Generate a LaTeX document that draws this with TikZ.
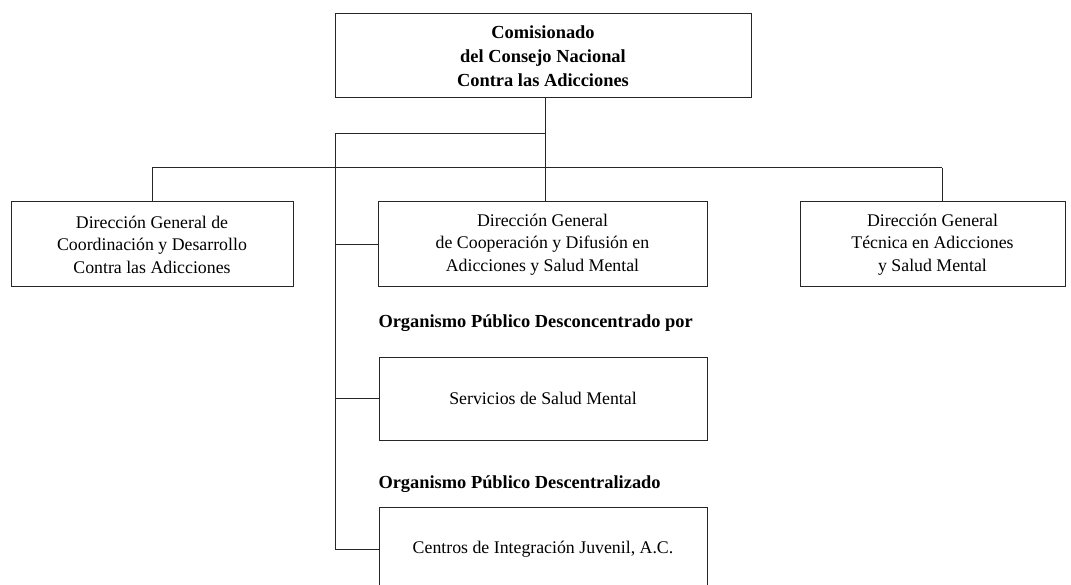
\documentclass[tikz,border=0pt]{standalone}
\usepackage{fontspec}
\setmainfont{Liberation Serif}
\begin{document}
\begin{tikzpicture}[x=1pt,y=-1pt,
  line width=1pt, draw=black!85,
  orgbox/.style={draw, line width=1pt, align=center, inner sep=0pt,
    font=\fontsize{17.8}{22.5}\selectfont},
  headbox/.style={orgbox, font=\bfseries\fontsize{18.4}{24}\selectfont},
  grouplabel/.style={anchor=west, inner sep=0pt, font=\bfseries\fontsize{18.4}{20}\selectfont},
  conn/.style={line width=1pt, draw=black!85}]
\useasboundingbox (0,0) rectangle (1071,585);
\clip (0,0) rectangle (1071,585);
\node[headbox, minimum width=416pt, minimum height=84pt] (top) at (543,56)
  {Comisionado\\del Consejo Nacional\\Contra las Adicciones};
\node[orgbox, minimum width=282pt, minimum height=85pt] (left) at (152,244.5)
  {Dirección General de\\Coordinación y Desarrollo\\Contra las Adicciones};
\node[orgbox, minimum width=329pt, minimum height=85pt] (mid) at (542.5,244.5)
  {Dirección General\\de Cooperación y Difusión en\\Adicciones y Salud Mental};
\node[orgbox, minimum width=265pt, minimum height=85pt] (right) at (932.5,244.5)
  {Dirección General\\Técnica en Adicciones\\y Salud Mental};
\node[grouplabel] (lab1) at (378,323) {Organismo Público Desconcentrado por};
\node[orgbox, minimum width=328pt, minimum height=83pt] (serv) at (543,398.5)
  {Servicios de Salud Mental};
\node[grouplabel] (lab2) at (378,484) {Organismo Público Descentralizado};
\node[orgbox, minimum width=328pt, minimum height=83pt] (cij) at (543,549)
  {Centros de Integración Juvenil, A.C.};
% junction coordinates
\coordinate (tj) at (545,168);
\coordinate (lj) at (152,168);
\coordinate (rj) at (942,168);
\coordinate (sj) at (545,134);
\coordinate (trunk) at (335,134);
% connectors
\draw[conn] (top.south -| tj) -- (tj);
\draw[conn] (lj) -- (rj);
\draw[conn] (lj) -- (left.north);
\draw[conn] (tj) -- (mid.north -| tj);
\draw[conn] (rj) -- (right.north -| rj);
\draw[conn] (sj) -- (trunk) -- (trunk |- cij.west) -- (cij.west);
\draw[conn] (trunk |- mid.west) -- (mid.west);
\draw[conn] (trunk |- serv.west) -- (serv.west);
\end{tikzpicture}
\end{document}
